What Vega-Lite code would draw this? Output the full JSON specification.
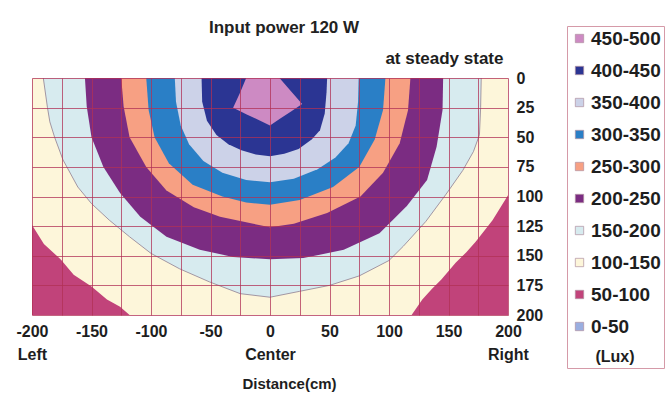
{
  "$schema": "https://vega.github.io/schema/vega-lite/v6.json",
  "width": 476,
  "height": 237,
  "padding": {"left": 15, "top": 18, "right": 5, "bottom": 5},
  "background": "white",
  "title": {"text": "Input power 120 W", "anchor": "middle", "frame": "group", "dx": 14, "offset": -11, "fontSize": 17, "fontWeight": "bold", "font": "Liberation Sans", "color": "#222222"},
  "config": {"view": {"stroke": null}, "font": "Liberation Sans"},
  "data": {"values": [
    {"b":"50-100","x":-200,"y":200,"y2":0},{"b":"50-100","x":200,"y":200,"y2":0},
    {"b":"100-150","x":-200,"y":124,"y2":0},{"b":"100-150","x":-190,"y":140,"y2":0},{"b":"100-150","x":-176,"y":153,"y2":0},{"b":"100-150","x":-165,"y":166,"y2":0},{"b":"100-150","x":-150,"y":176,"y2":0},{"b":"100-150","x":-137,"y":187,"y2":0},{"b":"100-150","x":-126,"y":193,"y2":0},{"b":"100-150","x":-118,"y":200,"y2":0},{"b":"100-150","x":119,"y":200,"y2":0},{"b":"100-150","x":128,"y":187,"y2":0},{"b":"100-150","x":136,"y":178,"y2":0},{"b":"100-150","x":144,"y":170,"y2":0},{"b":"100-150","x":156,"y":156,"y2":0},{"b":"100-150","x":165,"y":147,"y2":0},{"b":"100-150","x":173,"y":138,"y2":0},{"b":"100-150","x":187,"y":120,"y2":0},{"b":"100-150","x":200,"y":99,"y2":0},
    {"b":"150-200","x":-190.5,"y":0,"y2":0},{"b":"150-200","x":-187,"y":25,"y2":0},{"b":"150-200","x":-185,"y":37,"y2":0},{"b":"150-200","x":-181,"y":50,"y2":0},{"b":"150-200","x":-174,"y":69,"y2":0},{"b":"150-200","x":-161.5,"y":92,"y2":0},{"b":"150-200","x":-150,"y":106,"y2":0},{"b":"150-200","x":-135,"y":120,"y2":0},{"b":"150-200","x":-118,"y":134,"y2":0},{"b":"150-200","x":-100,"y":148,"y2":0},{"b":"150-200","x":-76,"y":161,"y2":0},{"b":"150-200","x":-51,"y":172,"y2":0},{"b":"150-200","x":-25,"y":182,"y2":0},{"b":"150-200","x":0,"y":185,"y2":0},{"b":"150-200","x":25,"y":180,"y2":0},{"b":"150-200","x":50,"y":175,"y2":0},{"b":"150-200","x":75,"y":167,"y2":0},{"b":"150-200","x":100,"y":154,"y2":0},{"b":"150-200","x":112,"y":142,"y2":0},{"b":"150-200","x":131,"y":121,"y2":0},{"b":"150-200","x":148,"y":98,"y2":0},{"b":"150-200","x":162,"y":78,"y2":0},{"b":"150-200","x":171,"y":62,"y2":0},{"b":"150-200","x":176,"y":48,"y2":0},{"b":"150-200","x":177,"y":25,"y2":0},{"b":"150-200","x":177.5,"y":0,"y2":0},
    {"b":"200-250","x":-155.5,"y":0,"y2":0},{"b":"200-250","x":-154,"y":24,"y2":0},{"b":"200-250","x":-150,"y":50,"y2":0},{"b":"200-250","x":-140,"y":75,"y2":0},{"b":"200-250","x":-126,"y":97,"y2":0},{"b":"200-250","x":-109,"y":117,"y2":0},{"b":"200-250","x":-87,"y":134,"y2":0},{"b":"200-250","x":-59,"y":145,"y2":0},{"b":"200-250","x":-31,"y":151,"y2":0},{"b":"200-250","x":0,"y":153,"y2":0},{"b":"200-250","x":28,"y":152,"y2":0},{"b":"200-250","x":62,"y":145,"y2":0},{"b":"200-250","x":92,"y":131,"y2":0},{"b":"200-250","x":115,"y":108,"y2":0},{"b":"200-250","x":132,"y":86,"y2":0},{"b":"200-250","x":140,"y":58,"y2":0},{"b":"200-250","x":145,"y":27,"y2":0},{"b":"200-250","x":145.5,"y":0,"y2":0},
    {"b":"250-300","x":-125,"y":0,"y2":0},{"b":"250-300","x":-123,"y":24,"y2":0},{"b":"250-300","x":-118,"y":50,"y2":0},{"b":"250-300","x":-104,"y":75,"y2":0},{"b":"250-300","x":-87,"y":95,"y2":0},{"b":"250-300","x":-64,"y":109,"y2":0},{"b":"250-300","x":-42,"y":117,"y2":0},{"b":"250-300","x":-14,"y":123,"y2":0},{"b":"250-300","x":0,"y":126,"y2":0},{"b":"250-300","x":20,"y":123,"y2":0},{"b":"250-300","x":48,"y":114,"y2":0},{"b":"250-300","x":76,"y":100,"y2":0},{"b":"250-300","x":95,"y":80,"y2":0},{"b":"250-300","x":109,"y":55,"y2":0},{"b":"250-300","x":116,"y":27,"y2":0},{"b":"250-300","x":118,"y":0,"y2":0},
    {"b":"300-350","x":-104,"y":0,"y2":0},{"b":"300-350","x":-102,"y":27,"y2":0},{"b":"300-350","x":-97,"y":50,"y2":0},{"b":"300-350","x":-85,"y":72,"y2":0},{"b":"300-350","x":-65,"y":90,"y2":0},{"b":"300-350","x":-40,"y":100,"y2":0},{"b":"300-350","x":-20,"y":105,"y2":0},{"b":"300-350","x":0,"y":107,"y2":0},{"b":"300-350","x":25,"y":103,"y2":0},{"b":"300-350","x":53,"y":92,"y2":0},{"b":"300-350","x":75,"y":75,"y2":0},{"b":"300-350","x":88,"y":52,"y2":0},{"b":"300-350","x":95,"y":27,"y2":0},{"b":"300-350","x":97,"y":0,"y2":0},
    {"b":"350-400","x":-80,"y":0,"y2":0},{"b":"350-400","x":-79,"y":20,"y2":0},{"b":"350-400","x":-75,"y":40,"y2":0},{"b":"350-400","x":-68,"y":56,"y2":0},{"b":"350-400","x":-56,"y":70,"y2":0},{"b":"350-400","x":-40,"y":80,"y2":0},{"b":"350-400","x":-20,"y":86,"y2":0},{"b":"350-400","x":0,"y":88,"y2":0},{"b":"350-400","x":20,"y":85,"y2":0},{"b":"350-400","x":40,"y":77,"y2":0},{"b":"350-400","x":55,"y":67,"y2":0},{"b":"350-400","x":66,"y":55,"y2":0},{"b":"350-400","x":72,"y":40,"y2":0},{"b":"350-400","x":74,"y":20,"y2":0},{"b":"350-400","x":74.5,"y":0,"y2":0},
    {"b":"400-450","x":-57.5,"y":0,"y2":0},{"b":"400-450","x":-57,"y":20,"y2":0},{"b":"400-450","x":-53,"y":36,"y2":0},{"b":"400-450","x":-45,"y":48,"y2":0},{"b":"400-450","x":-35,"y":56,"y2":0},{"b":"400-450","x":-24,"y":61,"y2":0},{"b":"400-450","x":-12,"y":64.5,"y2":0},{"b":"400-450","x":0,"y":66,"y2":0},{"b":"400-450","x":12,"y":64,"y2":0},{"b":"400-450","x":24,"y":60,"y2":0},{"b":"400-450","x":35,"y":52,"y2":0},{"b":"400-450","x":42,"y":44,"y2":0},{"b":"400-450","x":46,"y":30,"y2":0},{"b":"400-450","x":47.5,"y":12,"y2":0},{"b":"400-450","x":48,"y":0,"y2":0},
    {"b":"450-500","x":-31,"y":25,"y2":25},{"b":"450-500","x":-25,"y":28,"y2":12},{"b":"450-500","x":-20,"y":30.5,"y2":0},{"b":"450-500","x":0,"y":40,"y2":0},{"b":"450-500","x":8,"y":34.5,"y2":0},{"b":"450-500","x":18,"y":28,"y2":11.5},{"b":"450-500","x":27,"y":22,"y2":22}
  ]},
  "encoding": {
    "x": {"field": "x", "type": "quantitative", "scale": {"domain": [-200, 200], "nice": false, "zero": false},
      "axis": {"values": [-200,-175,-150,-125,-100,-75,-50,-25,0,25,50,75,100,125,150,175,200], "zindex": 1, "grid": true, "gridColor": "#b03055", "gridOpacity": 0.75, "gridWidth": 1, "ticks": false, "domain": false,
        "labelExpr": "datum.value % 50 != 0 ? '' : (datum.value == -200 ? ['-200','Left'] : (datum.value == 0 ? ['0','Center'] : (datum.value == 200 ? ['200','Right'] : toString(datum.value))))",
        "labelFontSize": 16, "labelFontWeight": "bold", "labelColor": "#1e1e1e", "labelPadding": 8, "labelLineHeight": 23, "labelFlush": false, "labelOverlap": false,
        "title": "Distance(cm)", "titleFontSize": 15, "titleFontWeight": "bold", "titleColor": "#1e1e1e", "titlePadding": 14, "titleX": 257}},
    "y": {"field": "y", "type": "quantitative", "stack": null, "scale": {"domain": [0, 200], "reverse": true, "nice": false, "zero": false},
      "axis": {"orient": "right", "values": [0,25,50,75,100,125,150,175,200], "zindex": 1, "grid": true, "gridColor": "#b03055", "gridOpacity": 0.75, "gridWidth": 1, "ticks": false, "domain": false,
        "labelFontSize": 16, "labelFontWeight": "bold", "labelColor": "#1e1e1e", "labelPadding": 8, "labelAlign": "left",
        "title": "at steady state", "titleAngle": 0, "titleAlign": "right", "titleBaseline": "alphabetic", "titleX": -5, "titleY": -15, "titleFontSize": 17, "titleFontWeight": "bold", "titleColor": "#1e1e1e"}}
  },
  "layer": [
    {"mark": {"type": "area", "opacity": 1},
     "encoding": {
       "y2": {"field": "y2"},
       "color": {"field": "b", "type": "nominal",
         "scale": {"domain": ["450-500","400-450","350-400","300-350","250-300","200-250","150-200","100-150","50-100","0-50"],
                   "range": ["#cd8ac3","#2b3593","#ccd2e8","#2a7fc6","#f7a083","#7b2c82","#d7ebef","#fdf6da","#c1437a","#9aaee0"]},
         "legend": {"orient": "none", "legendX": 535, "legendY": -52, "title": "(Lux)", "titleOrient": "bottom", "titleAnchor": "middle", "titleFontSize": 16, "titleFontWeight": "bold", "titleColor": "#1e1e1e", "titlePadding": 12,
           "strokeColor": "#d59aa8", "padding": 3, "rowPadding": 12, "symbolType": "square", "symbolSize": 70, "symbolStrokeColor": "#b090a0", "symbolStrokeWidth": 0.7, "labelFontSize": 19, "labelFontWeight": "bold", "labelColor": "#1e1e1e", "labelOffset": 2}}
     }},
    {"transform": [{"filter": "datum.b == '150-200'"}],
     "mark": {"type": "line", "stroke": "#8f7f92", "strokeWidth": 0.8},
     "encoding": {}}
  ]
}
